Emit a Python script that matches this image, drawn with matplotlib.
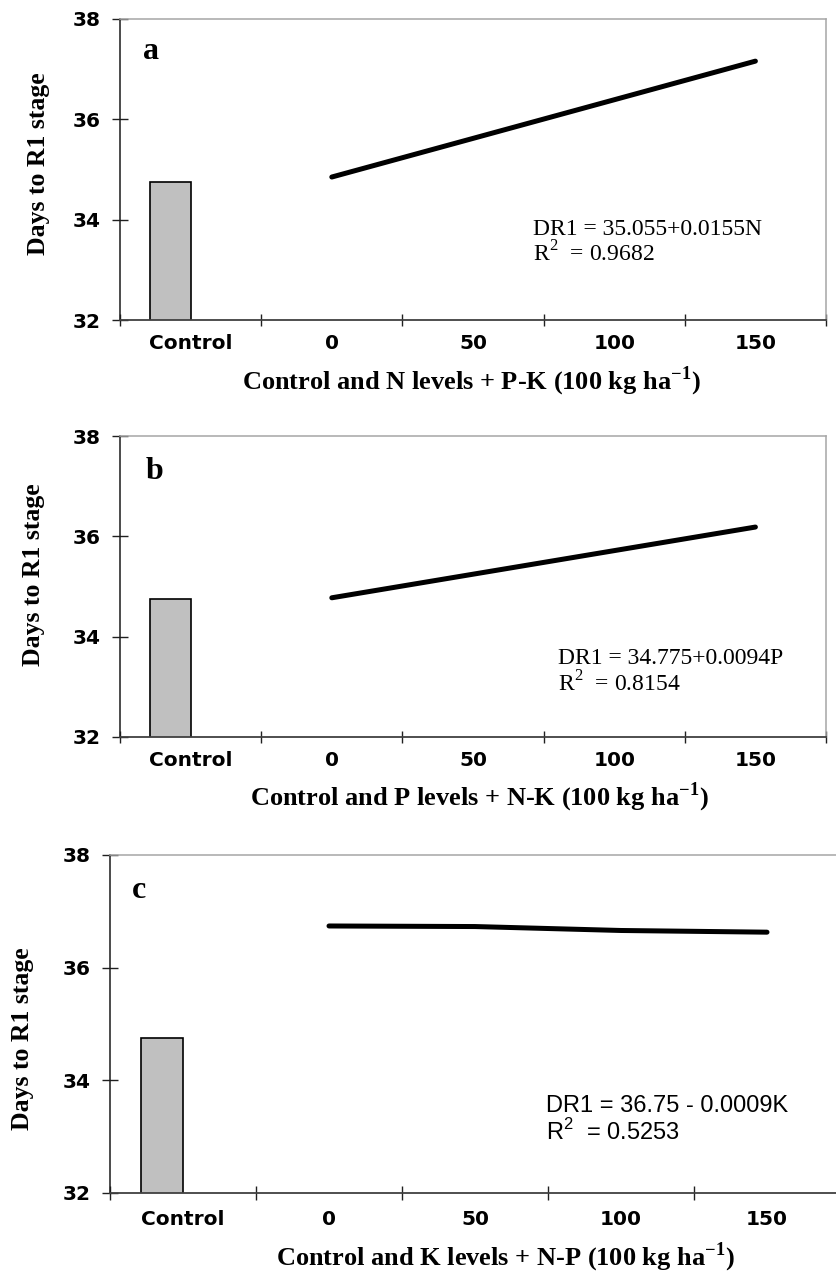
import matplotlib
matplotlib.use("Agg")
import matplotlib.pyplot as plt
import numpy as np

plt.rcParams.update({
    "mathtext.fontset": "custom",
    "mathtext.rm": "Liberation Serif",
    "mathtext.bf": "Liberation Serif:bold",
    "mathtext.sf": "Liberation Sans",
})

# ---- data -------------------------------------------------------------
categories = ["Control", "0", "50", "100", "150"]
levels = [0, 50, 100, 150]
control_days = 34.75
n_days = [34.85, 35.62, 36.39, 37.16]
p_days = [34.775, 35.245, 35.715, 36.185]
k_days = [36.74, 36.73, 36.66, 36.63]
y_ticks = [32, 34, 36, 38]

x_labels = [
    r"Control and N levels + P-K (100 kg ha$^{\mathbf{-1}}$)",
    r"Control and P levels + N-K (100 kg ha$^{\mathbf{-1}}$)",
    r"Control and K levels + N-P (100 kg ha$^{\mathbf{-1}}$)",
]
equations = [
    ["DR1 = 35.055+0.0155N", r"R$^{\mathrm{2}}$  = 0.9682"],
    ["DR1 = 34.775+0.0094P", r"R$^{\mathrm{2}}$  = 0.8154"],
    ["DR1 = 36.75 - 0.0009K", r"R$^{\mathsf{2}}$  = 0.5253"],
]
letters = ["a", "b", "c"]
y_label = "Days to R1 stage"

# ---- layout (pixels) --------------------------------------------------
W, H = 836, 1273


def frac(left, top, right, bottom):
    return [left / W, 1 - bottom / H, (right - left) / W, (bottom - top) / H]


panels = [
    dict(values=n_days, box=frac(120, 19, 826, 320), ylab=(-0.116, 0.52),
         xlab=(0.497, -0.231), letter=(0.033, 0.867), eq=(0.585, 0.282, 0.193),
         eq_family="Liberation Serif", xpad=10, ytick=11.5, xtick=8.6),
    dict(values=p_days, box=frac(120, 436, 826, 737), ylab=(-0.122, 0.538),
         xlab=(0.509, -0.226), letter=(0.037, 0.857), eq=(0.620, 0.2425, 0.150),
         eq_family="Liberation Serif", xpad=10, ytick=11.5, xtick=8.6),
    dict(values=k_days, box=frac(110, 855, 840, 1193), ylab=(-0.1205, 0.456),
         xlab=(0.542, -0.214), letter=(0.030, 0.873), eq=(0.597, 0.240, 0.157),
         eq_family="Liberation Sans", xpad=12, ytick=12, xtick=9.4),
]

fig = plt.figure(figsize=(W / 100, H / 100), dpi=100)

x_cat = np.arange(len(categories))
bar_w = 0.29

for i, p in enumerate(panels):
    ax = fig.add_axes(p["box"])

    # control bar sits just left of its category centre
    ax.bar(x_cat[0] - bar_w, control_days, width=bar_w, align="edge",
           color="#c0c0c0", edgecolor="black", linewidth=1.2, zorder=2)
    # response line over the fertiliser levels
    ax.plot(x_cat[1:], p["values"], color="black", lw=3.6,
            solid_capstyle="round", zorder=3)

    ax.set_xlim(-0.5, len(categories) - 0.5)
    ax.set_ylim(y_ticks[0], y_ticks[-1])

    # category boundaries carry the tick marks, centres carry the labels
    ax.set_xticks(np.arange(-0.5, len(categories), 1.0))
    ax.set_xticklabels([])
    ax.set_xticks(x_cat, categories, minor=True)
    ax.tick_params(axis="x", which="major", direction="inout",
                   length=p["xtick"], width=1, color="#202020")
    ax.tick_params(axis="x", which="minor", length=0, pad=p["xpad"])
    ax.set_yticks(y_ticks)
    ax.tick_params(axis="y", direction="inout", length=p["ytick"], width=1,
                   color="#202020", pad=8)
    for lab in ax.get_xticklabels(minor=True) + ax.get_yticklabels():
        lab.set_fontfamily("DejaVu Sans")
        lab.set_fontweight("bold")
        lab.set_fontsize(14.5)

    for side in ("top", "right"):
        ax.spines[side].set_color("#a6a6a6")
        ax.spines[side].set_linewidth(1.1)
    ax.spines["left"].set_color("#1a1a1a")
    ax.spines["bottom"].set_color("#404040")
    ax.spines["left"].set_linewidth(1.1)
    ax.spines["bottom"].set_linewidth(1.3)

    ax.set_ylabel(y_label, family="Liberation Serif", weight="bold",
                  fontsize=18.5, va="center")
    ax.yaxis.set_label_coords(*p["ylab"])
    ax.set_xlabel(x_labels[i], family="Liberation Serif", weight="bold",
                  fontsize=19, va="baseline")
    ax.xaxis.set_label_coords(*p["xlab"])

    ax.text(*p["letter"], letters[i], transform=ax.transAxes,
            family="Liberation Serif", weight="bold", fontsize=23,
            va="baseline")

    ex, ey1, ey2 = p["eq"]
    ax.text(ex, ey1, equations[i][0], transform=ax.transAxes,
            family=p["eq_family"], fontsize=17, va="baseline")
    ax.text(ex, ey2, equations[i][1], transform=ax.transAxes,
            family=p["eq_family"], fontsize=17, va="baseline")

fig.savefig("out.png", dpi=100)
